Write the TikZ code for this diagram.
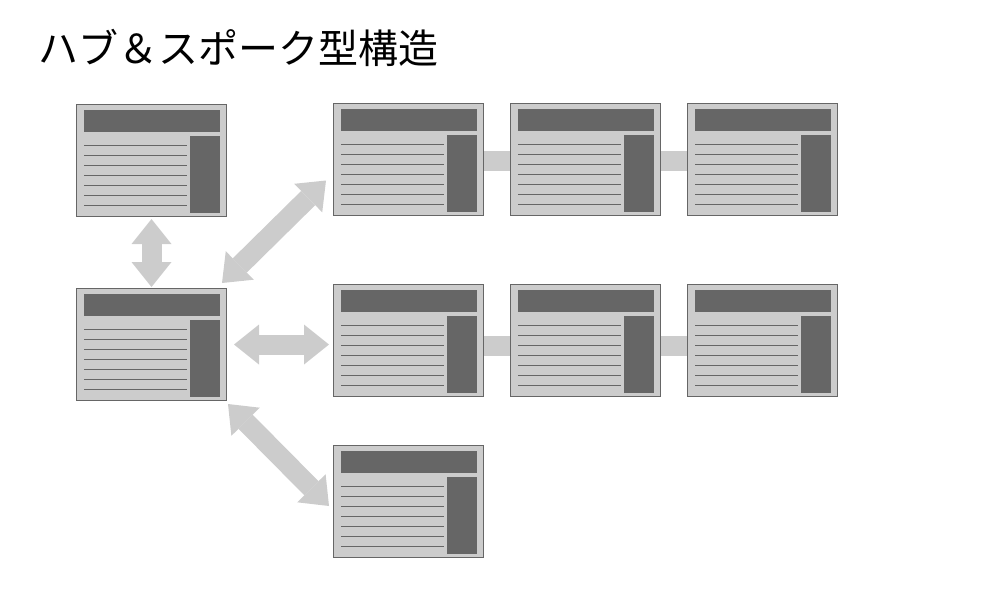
\documentclass[tikz,border=0pt]{standalone}
\usepackage{fontspec}
\usetikzlibrary{arrows.meta}
\newfontfamily\cjk{Noto Sans CJK JP}
\definecolor{paper}{HTML}{CCCCCC}
\definecolor{ink}{HTML}{666666}
\definecolor{spokegray}{HTML}{CCCCCC}
\tikzset{
	page/.style={draw=ink, line width=1pt, fill=paper, minimum width=150pt, minimum height=112pt, inner sep=0pt, anchor=north west},
	rule/.style={draw=ink, line width=1pt},
	link/.style={draw=spokegray, line width=20pt},
	spoke/.style={draw=spokegray, line width=20pt, {Triangle[length=25pt,width=40pt,line width=0pt]}-{Triangle[length=25pt,width=40pt,line width=0pt]}}
}
\newcommand{\Page}[3]{
	\node[page] (#1) at (#2,#3) {};
	\fill[ink] ([shift={(8,6)}]#1.north west) rectangle ([shift={(144,28)}]#1.north west);
	\fill[ink] ([shift={(114,32)}]#1.north west) rectangle ([shift={(144,109)}]#1.north west);
	\foreach \k in {0,...,6}
		\draw[rule] ([shift={(8,41+10*\k)}]#1.north west) -- ++(103,0);
}

\begin{document}
\begin{tikzpicture}[x=1pt,y=-1pt]
		\useasboundingbox (0,0) rectangle (1000,600);
		\node[anchor=base west, inner sep=0pt, font=\cjk\fontsize{40}{44}\selectfont] (title) at (38,63) {ハブ＆スポーク型構造};
		\Page{top}{76}{104}
		\Page{hub}{76}{288}
		\Page{r1a}{333}{103}
		\Page{r1b}{510}{103}
		\Page{r1c}{687}{103}
		\Page{r2a}{333}{284}
		\Page{r2b}{510}{284}
		\Page{r2c}{687}{284}
		\Page{low}{333}{445}
		\draw[link] ([shift={(0,1)}]r1a.east) -- ([shift={(0,1)}]r1b.west);
		\draw[link] ([shift={(0,1)}]r1b.east) -- ([shift={(0,1)}]r1c.west);
		\draw[link] ([shift={(0,5)}]r2a.east) -- ([shift={(0,5)}]r2b.west);
		\draw[link] ([shift={(0,5)}]r2b.east) -- ([shift={(0,5)}]r2c.west);
		\draw[spoke] ([shift={(0,2)}]top.south) -- ([shift={(0,-1)}]hub.north);
		\draw[spoke] ([shift={(7,0)}]hub.east) -- ([shift={(-4,4)}]r2a.west);
		\draw[spoke] ([shift={(-5,-5)}]hub.north east) -- ([shift={(-7,21)}]r1a.west);
		\draw[spoke] ([shift={(1,3)}]hub.south east) -- ([shift={(-4,4.5)}]low.west);
	\end{tikzpicture}
\end{document}
